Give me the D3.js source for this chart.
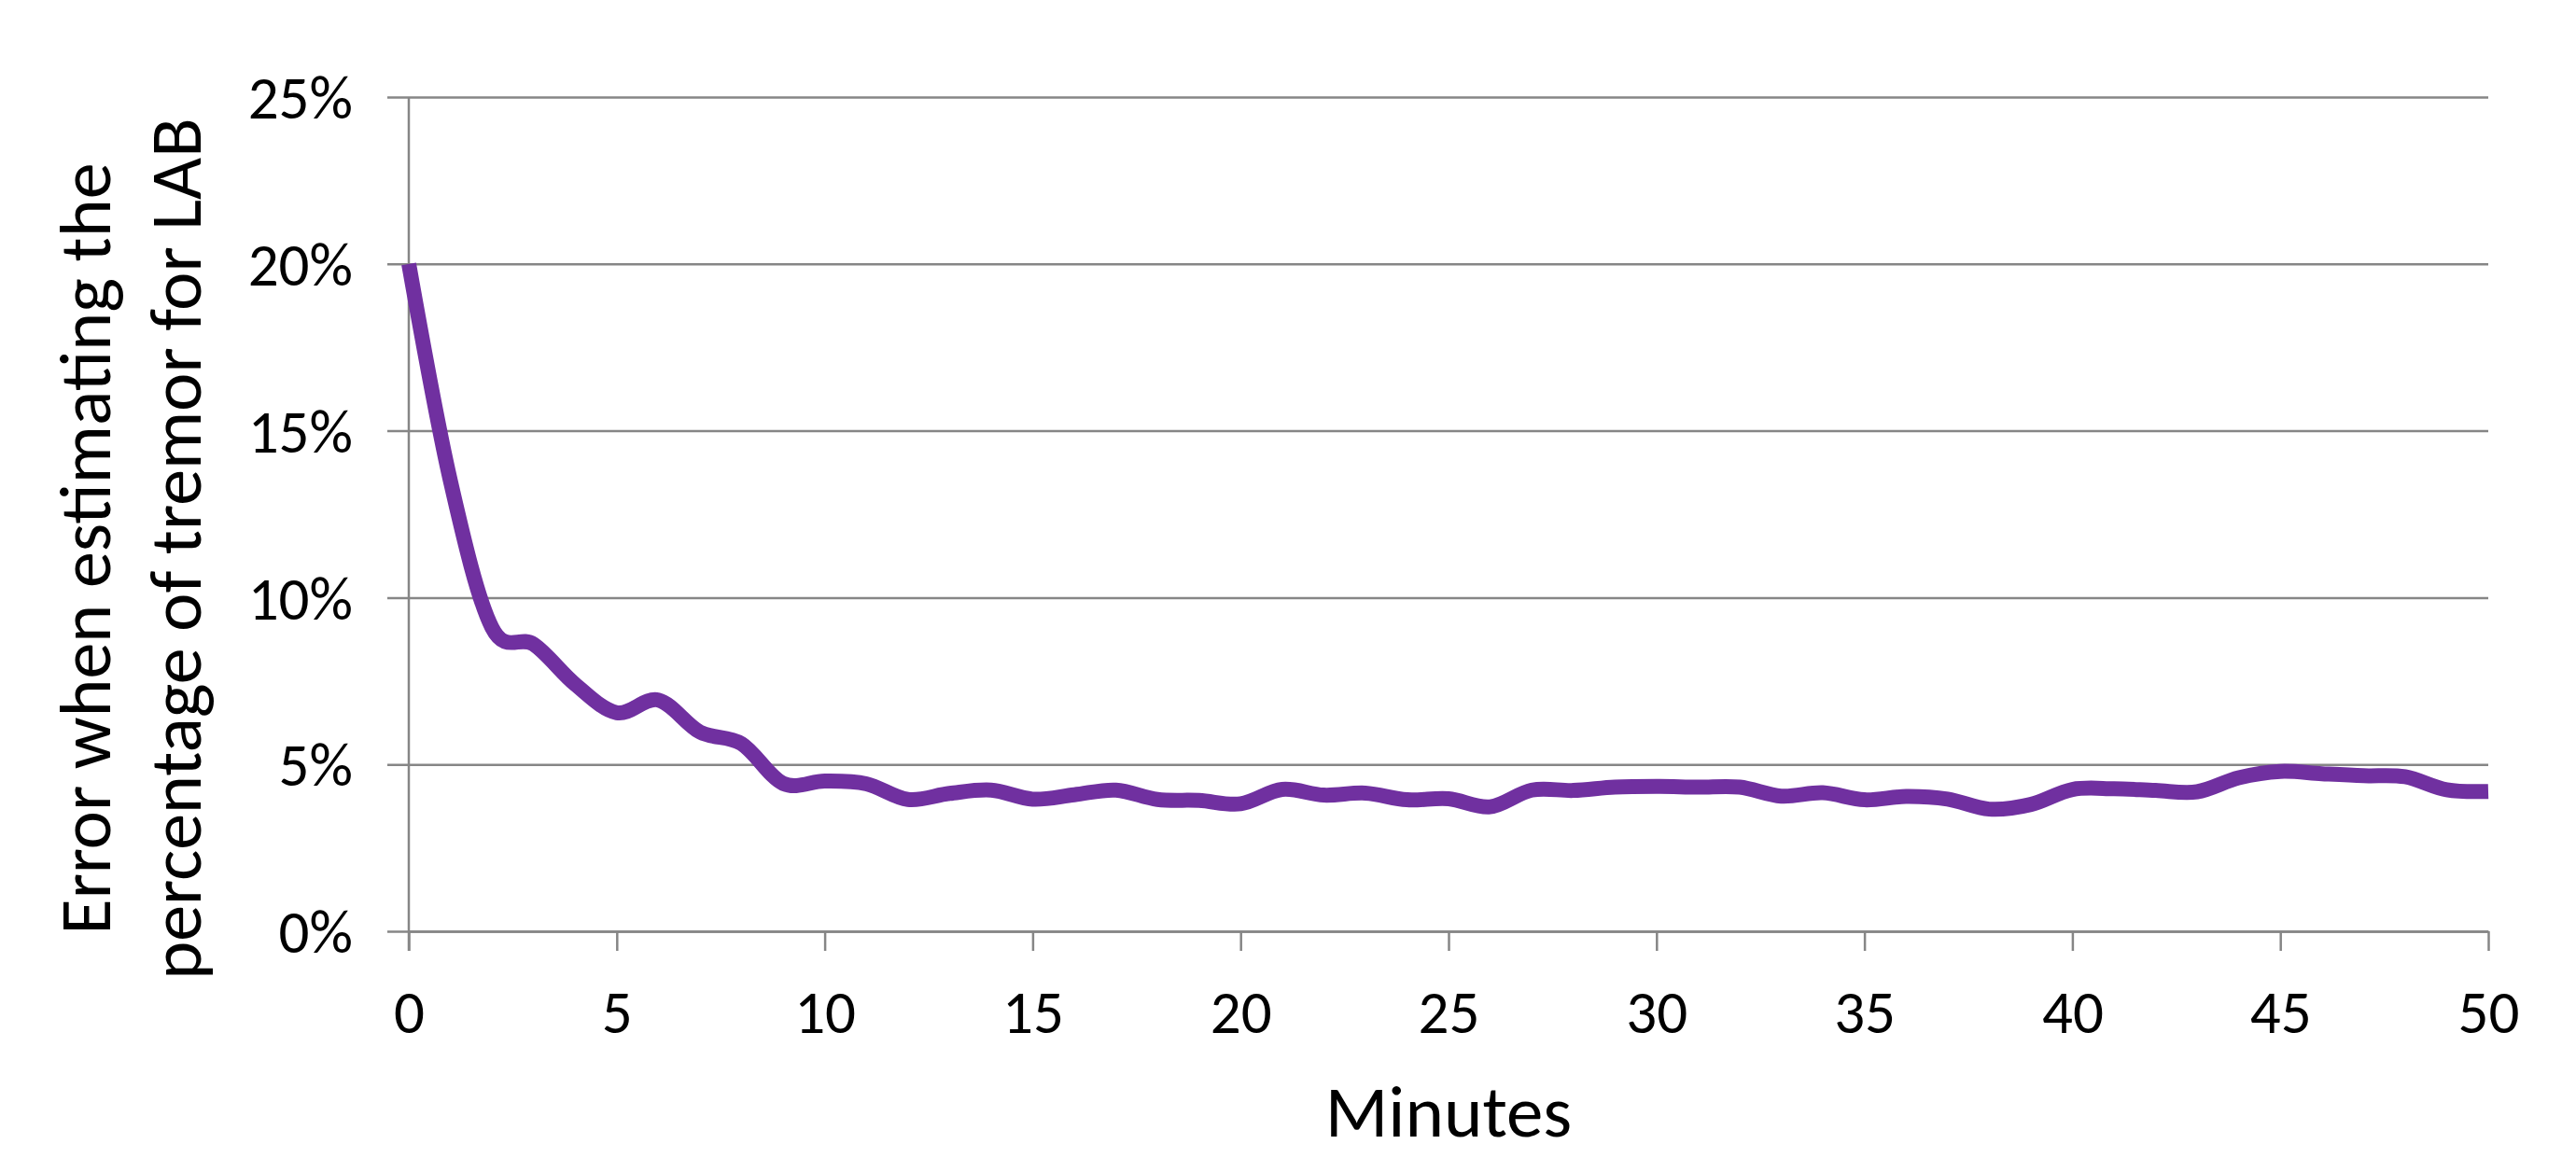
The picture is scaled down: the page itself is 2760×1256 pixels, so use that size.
<!DOCTYPE html>
<html>
<head>
<meta charset="utf-8">
<script src="https://cdn.jsdelivr.net/npm/d3@7"></script>
<style>
    body { margin: 0; background: #ffffff; }
    svg { display: block; }
    .tick text { font-family: Carlito, Calibri, Lato, sans-serif; fill: #000000; }
</style>
</head>
<body>
<svg class="main canvas" width="2760" height="1256"></svg>
<script>
'use strict';

// minutes since start (x categories)
var minutes = [0, 1, 2, 3, 4, 5, 6, 7, 8, 9, 10, 11, 12, 13, 14, 15, 16, 17, 18, 19, 20,
    21, 22, 23, 24, 25, 26, 27, 28, 29, 30, 31, 32, 33, 34, 35, 36, 37, 38, 39, 40,
    41, 42, 43, 44, 45, 46, 47, 48, 49, 50];

// error in percent
var errorPct = [20.0, 13.5, 9.1, 8.6, 7.4, 6.55, 6.93, 5.97, 5.62, 4.43, 4.5,
    4.42, 3.95, 4.13, 4.23, 3.96, 4.09, 4.23, 3.95, 3.92, 3.82,
    4.25, 4.08, 4.14, 3.94, 3.97, 3.73, 4.23, 4.22, 4.32, 4.34,
    4.32, 4.32, 4.05, 4.15, 3.94, 4.04, 3.96, 3.66, 3.8, 4.25,
    4.27, 4.22, 4.18, 4.6, 4.79, 4.72, 4.66, 4.63, 4.24, 4.19];

var xTicks = [0, 5, 10, 15, 20, 25, 30, 35, 40, 45, 50];
var yTicks = [0, 5, 10, 15, 20, 25];

var xTitle = "Minutes";
var yTitleLines = ["Error when estimating the", "percentage of tremor for LAB"];

function drawChart() {
    var svg = d3.select(".main.canvas");
    var left = 438, right = 2666, top = 104, bottom = 998;
    var gridColor = "#868686";

    var x = d3.scaleLinear().domain([0, 50]).range([left, right]);
    var y = d3.scaleLinear().domain([0, 25]).range([bottom, top]);

    // horizontal grid + y axis labels
    var yAxis = d3.axisLeft(y)
        .tickValues(yTicks)
        .tickSize(-(right - left))
        .tickPadding(60)
        .tickFormat(function(d) { return d + "%"; });

    var gy = svg.append("g")
        .attr("transform", "translate(" + left + ",0)")
        .call(yAxis);
    gy.select(".domain").remove();
    gy.selectAll(".tick line")
        .attr("x1", -23)
        .attr("stroke", gridColor)
        .attr("stroke-width", 2.5);
    gy.selectAll(".tick text")
        .attr("font-size", 65)
        .attr("dy", "0.35em");

    // vertical axis line
    svg.append("line")
        .attr("x1", left).attr("x2", left)
        .attr("y1", top).attr("y2", bottom + 21)
        .attr("stroke", gridColor)
        .attr("stroke-width", 2.5);

    // x axis
    var xAxis = d3.axisBottom(x)
        .tickValues(xTicks)
        .tickSize(21)
        .tickPadding(42)
        .tickSizeOuter(0)
        .tickFormat(function(d) { return d; });

    var gx = svg.append("g")
        .attr("transform", "translate(0," + bottom + ")")
        .call(xAxis);
    gx.select(".domain")
        .attr("stroke", gridColor)
        .attr("stroke-width", 2.5);
    gx.selectAll(".tick line")
        .attr("stroke", gridColor)
        .attr("stroke-width", 2.5);
    gx.selectAll(".tick text")
        .attr("font-size", 65);

    // the data line
    var points = minutes.map(function(m, i) {
        return [m, errorPct[i]];
    });
    var line = d3.line()
        .x(function(d) { return x(d[0]); })
        .y(function(d) { return y(d[1]); })
        .curve(d3.curveCatmullRom.alpha(0));

    svg.append("path")
        .datum(points)
        .attr("fill", "none")
        .attr("stroke", "#7030A0")
        .attr("stroke-width", 16)
        .attr("stroke-linejoin", "round")
        .attr("d", line);

    // axis titles
    svg.append("text")
        .attr("x", (left + right) / 2)
        .attr("y", 1218)
        .attr("text-anchor", "middle")
        .attr("font-family", "Carlito, Calibri, Lato, sans-serif")
        .attr("font-size", 79)
        .text(xTitle);

    var yTitle = svg.append("text")
        .attr("transform", "translate(0,588) rotate(-90)")
        .attr("text-anchor", "middle")
        .attr("font-family", "Carlito, Calibri, Lato, sans-serif")
        .attr("font-size", 78);
    yTitle.selectAll("tspan")
        .data(yTitleLines)
        .enter()
        .append("tspan")
        .attr("x", 0)
        .attr("y", function(d, i) { return 118 + i * 97; })
        .text(function(d) { return d; });
}

drawChart();
</script>
</body>
</html>
